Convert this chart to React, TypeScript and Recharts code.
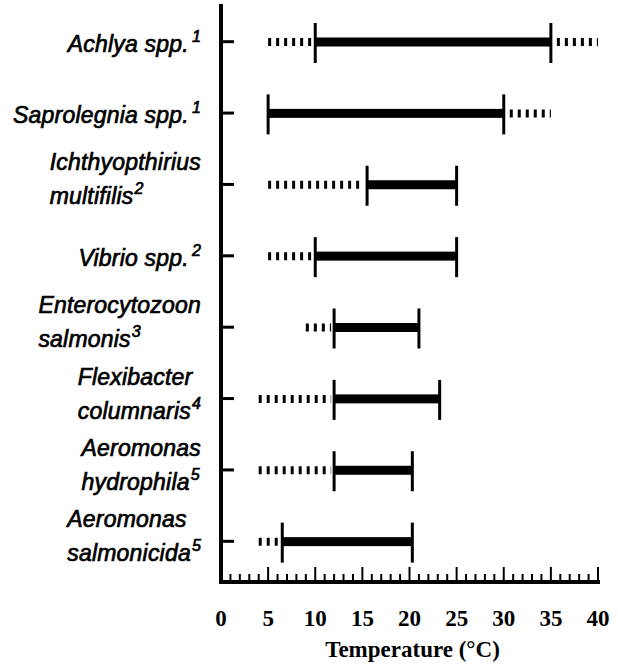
import React from 'react';
import { BarChart, Bar, XAxis, YAxis, Label } from 'recharts';

// pathogens, split into the lines as printed, with their reference numbers
const species = [
  ['Achlya spp.'],
  ['Saprolegnia spp.'],
  ['Ichthyopthirius', 'multifilis'],
  ['Vibrio spp.'],
  ['Enterocytozoon', 'salmonis'],
  ['Flexibacter', 'columnaris'],
  ['Aeromonas', 'hydrophila'],
  ['Aeromonas', 'salmonicida'],
];
const refs = ['1', '1', '2', '2', '3', '4', '5', '5'];

// temperature ranges (°C)
const dottedLow = [5, 5, 5, 5, 9, 4, 4, 4];
const optimumLow = [10, 5, 15.5, 10, 12, 12, 12, 6.5];
const optimumHigh = [35, 30, 25, 25, 21, 23.2, 20.3, 20.3];
const dottedHigh = [40, 35, 25, 25, 21, 23.2, 20.3, 20.3];

const xTicks = Array.from({ length: 41 }, (_, i) => i);

const data = species.map((lines, i) => ({
  name: lines.join(' '),
  base: dottedLow[i],
  lowDot: optimumLow[i] - dottedLow[i],
  optimum: optimumHigh[i] - optimumLow[i],
  highDot: dottedHigh[i] - optimumHigh[i],
}));

const SANS = '"Liberation Sans", Arial, sans-serif';
const SERIF = '"Liberation Serif", "Times New Roman", serif';
const LABEL_SIZE = 23;
const SUP_SIZE = 16;
const SPACING = 0.2;

let ctx: CanvasRenderingContext2D | null = null;
const measure = (text: string, size: number) => {
  if (!ctx) ctx = document.createElement('canvas').getContext('2d');
  if (!ctx) return text.length * size * 0.5;
  ctx.font = `italic ${size}px ${SANS}`;
  return ctx.measureText(text).width + text.length * SPACING;
};

const YTick = (props: any) => {
  const { x, y, payload } = props;
  const i = species.findIndex((l) => l.join(' ') === payload.value);
  const lines = species[i];
  const sup = refs[i];
  const right = x - 20;
  const supGap = lines.length === 1 ? 3 : 1;
  const widths = lines.map((t, k) =>
    measure(t, LABEL_SIZE) + (k === lines.length - 1 ? supGap + measure(sup, SUP_SIZE) : 0)
  );
  const left = right - Math.max(...widths);
  const baselines = lines.length === 1 ? [y + 10] : [y - 14, y + 20];
  return (
    <g>
      <line x1={x} x2={x + 13} y1={y} y2={y} stroke="#000" strokeWidth={3} />
      {lines.map((t, k) => (
        <text
          key={k}
          x={lines.length === 1 ? right - widths[0] : left}
          y={baselines[k]}
          fontFamily={SANS}
          fontStyle="italic"
          fontSize={LABEL_SIZE}
          letterSpacing={SPACING}
          fill="#000"
          stroke="#000"
          strokeWidth={0.7}
        >
          <tspan>{t}</tspan>
          {k === lines.length - 1 && (
            <tspan dx={supGap} dy={-10} fontSize={SUP_SIZE}>
              {sup}
            </tspan>
          )}
        </text>
      ))}
    </g>
  );
};

const XTick = (props: any) => {
  const { x, y, payload } = props;
  const major = payload.value % 5 === 0;
  return (
    <g>
      <line x1={x} x2={x} y1={y} y2={y - 2 - (major ? 13 : 6)} stroke="#000" strokeWidth={2} />
      {major && (
        <text x={x} y={y + 44} textAnchor="middle" fontFamily={SERIF} fontWeight="bold" fontSize={23} fill="#000">
          {payload.value}
        </text>
      )}
    </g>
  );
};

const Blank = () => <g />;

const Dotted = (props: any, side: 'low' | 'high') => {
  const { x, y, width, height } = props;
  if (!width || width <= 0) return <g />;
  const cy = y + height / 2;
  const x1 = side === 'low' ? x : x + 6;
  const x2 = side === 'low' ? x + width - 3 : x + width;
  return <line x1={x1} x2={x2} y1={cy} y2={cy} stroke="#000" strokeWidth={8} strokeDasharray="3 5" />;
};

const Optimum = (props: any) => {
  const { x, y, width, height } = props;
  const cy = y + height / 2;
  return (
    <g>
      <rect x={x} y={cy - 4.5} width={width} height={9} fill="#000" />
      <line x1={x} x2={x} y1={cy - 19} y2={cy + 21} stroke="#000" strokeWidth={3} />
      <line x1={x + width} x2={x + width} y1={cy - 19} y2={cy + 21} stroke="#000" strokeWidth={3} />
    </g>
  );
};

export default function App() {
  return (
    <div style={{ position: 'absolute', left: 0, top: 0, background: '#fff' }}>
      <BarChart
        width={618}
        height={665}
        data={data}
        layout="vertical"
        margin={{ top: 6, right: 20, left: 0, bottom: 0 }}
        barSize={40}
      >
        <XAxis
          type="number"
          domain={[0, 40]}
          ticks={xTicks}
          interval={0}
          tick={<XTick />}
          tickLine={false}
          tickSize={0}
          tickMargin={0}
          axisLine={{ stroke: '#000', strokeWidth: 4, strokeLinecap: 'square' }}
          height={83}
        >
          <Label
            value="Temperature (°C)"
            position="insideBottom"
            offset={8}
            dx={3}
            style={{ fontFamily: SERIF, fontWeight: 'bold', fontSize: 23, fill: '#000' }}
          />
        </XAxis>
        <YAxis
          type="category"
          dataKey="name"
          width={221}
          interval={0}
          tick={<YTick />}
          tickLine={false}
          tickSize={0}
          tickMargin={0}
          padding={{ top: 0, bottom: 5 }}
          axisLine={{ stroke: '#000', strokeWidth: 4, strokeLinecap: 'square' }}
        />
        <Bar dataKey="base" stackId="t" shape={Blank} isAnimationActive={false} />
        <Bar dataKey="lowDot" stackId="t" shape={(p: any) => Dotted(p, 'low')} isAnimationActive={false} />
        <Bar dataKey="optimum" stackId="t" shape={Optimum} isAnimationActive={false} />
        <Bar dataKey="highDot" stackId="t" shape={(p: any) => Dotted(p, 'high')} isAnimationActive={false} />
      </BarChart>
    </div>
  );
}
